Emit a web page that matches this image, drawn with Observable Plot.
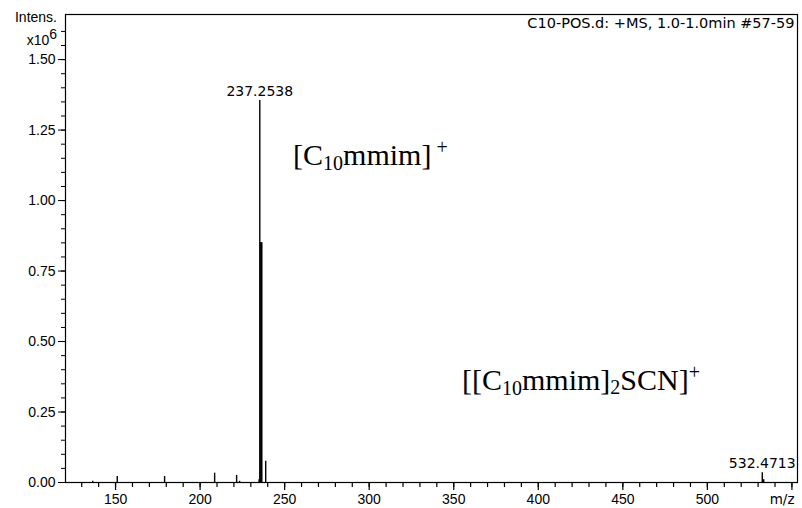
<!DOCTYPE html>
<html><head><meta charset="utf-8">
<script src="https://cdn.jsdelivr.net/npm/d3@7"></script>
<script src="https://cdn.jsdelivr.net/npm/@observablehq/plot@0.6"></script>
<style>body{margin:0;background:#fff} svg{display:block}</style>
</head><body><div id="chart"></div><script>
// Peaks (m/z, intensity in x10^6)
const mz        = [136.5, 151.0, 179.0, 208.6, 221.6, 223.4, 234.9, 235.3, 235.9, 236.2, 236.5, 238.8, 532.47, 533.3];
const intensity = [0.004, 0.021, 0.021, 0.033, 0.025, 0.004, 0.010, 1.355, 0.850, 0.850, 0.850, 0.075, 0.035, 0.010];

// Peak labels
const labelText      = ["237.2538", "532.4713"];
const labelMz        = [235.3, 532.47];
const labelIntensity = [1.355, 0.035];

// Axis ticks
const yMajor = [0, 0.25, 0.5, 0.75, 1.0, 1.25, 1.5];
const yMinor = d3.range(0, 1.6001, 0.05);
const xMajor = [150, 200, 250, 300, 350, 400, 450, 500, 550];
const xMinor = d3.range(130, 551, 10);

// Texts
const headerText = "C10-POS.d: +MS, 1.0-1.0min #57-59";
const xUnit = "m/z";

// Annotations (anchor in data units)
const annot1Mz = 255.3, annot1Y = 1.124;
const annot2Mz = 355.2, annot2Y = 0.326;

const peaks = mz.map((m, i) => ({mz: m, intensity: intensity[i]}));
const labels = labelText.map((t, i) => ({text: t, mz: labelMz[i], y: labelIntensity[i]}));

const plot = Plot.plot({
  width: 802, height: 508,
  marginLeft: 65, marginRight: 5, marginTop: 14, marginBottom: 26,
  x: {domain: [120.4, 553.3]},
  y: {domain: [0, 1.66]},
  style: {fontFamily: "'Liberation Sans', Arial, sans-serif", fontSize: "14px", color: "black", background: "white"},
  marks: [
    Plot.axisY(yMinor, {tickSize: 4, tickFormat: () => "", label: null, strokeWidth: 1}),
    Plot.axisY(yMajor, {tickSize: 7, tickPadding: 3, tickFormat: d => d.toFixed(2), label: null, fontSize: 14, strokeWidth: 1}),
    Plot.axisX(xMinor, {tickSize: 5, tickFormat: () => "", label: null, strokeWidth: 1.2}),
    Plot.axisX(xMajor, {tickSize: 8, tickPadding: 4, tickFormat: d => d === 550 ? "" : String(d), label: null, fontSize: 14, strokeWidth: 1.2}),
    Plot.ruleX(peaks, {x: "mz", y1: 0, y2: "intensity", stroke: "black", strokeWidth: 1.4}),
    Plot.frame({stroke: "black", strokeWidth: 1.2}),
    Plot.text(labels, {x: "mz", y: "y", text: "text", dy: -9, fontFamily: "'DejaVu Sans', Verdana, sans-serif", fontSize: 14, fill: "black"}),
    Plot.text([headerText], {frameAnchor: "top-right", dx: -3, dy: 3, textAnchor: "end", fontFamily: "'DejaVu Sans', Verdana, sans-serif", fontSize: 14.5, fill: "black"}),
    Plot.text([xUnit], {frameAnchor: "bottom-right", dx: -3, dy: 21, textAnchor: "end", fontFamily: "'DejaVu Sans', Verdana, sans-serif", fontSize: 13.5, fill: "black"})
  ]
});
document.getElementById("chart").appendChild(plot);

const svg = d3.select(plot);
const xs = plot.scale("x"), ys = plot.scale("y");

// Y-axis title
svg.append("text").attr("x", 57).attr("y", 22).attr("text-anchor", "end")
  .attr("font-family", "'Liberation Sans', Arial, sans-serif").attr("font-size", 14).text("Intens.");
const t6 = svg.append("text").attr("x", 57).attr("y", 45).attr("text-anchor", "end")
  .attr("font-family", "'Liberation Sans', Arial, sans-serif").attr("font-size", 14);
t6.append("tspan").text("x10");
t6.append("tspan").attr("dy", -6).text("6");

// Annotations with sub/superscripts
function annot(m, v, parts) {
  const t = svg.append("text").attr("x", xs.apply(m)).attr("y", ys.apply(v))
    .attr("text-anchor", "start")
    .attr("font-family", "'Liberation Serif', 'Times New Roman', serif").attr("font-size", 30).attr("fill", "black");
  let cur = 0;
  for (const [s, off, size] of parts) {
    t.append("tspan").attr("dy", off - cur).attr("font-size", size).text(s);
    cur = off;
  }
}
annot(annot1Mz, annot1Y, [["[C", 0, 30], ["10", 5, 20], ["mmim]", 0, 30], ["\u00a0+", -11, 20]]);
annot(annot2Mz, annot2Y, [["[[C", 0, 30], ["10", 5, 20], ["mmim]", 0, 30], ["2", 4, 20], ["SCN]", 0, 30], ["+", -11, 20]]);
</script></body></html>
